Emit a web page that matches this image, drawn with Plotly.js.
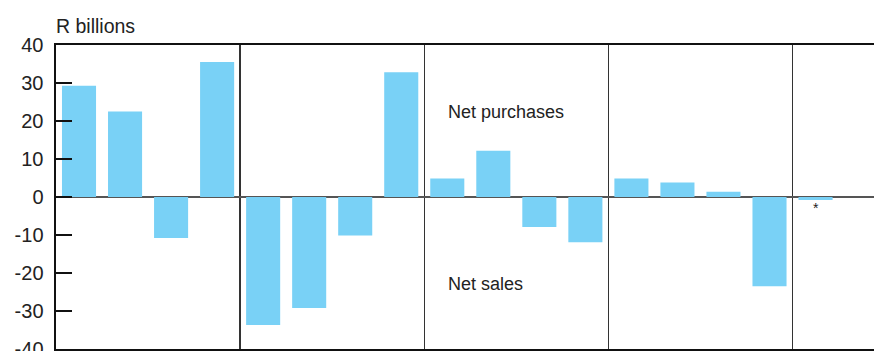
<!DOCTYPE html>
<html>
<head>
<meta charset="utf-8">
<script src="https://cdn.plot.ly/plotly-3.0.1.min.js"></script>
<style>html,body{margin:0;padding:0;background:#fff;}#chart{width:874px;height:351px;}</style>
</head>
<body>
<div id="chart"></div>
<script>
// Net purchases (+) / net sales (-), R billions, quarterly bars in groups of four
var values = [29.3, 22.5, -10.8, 35.5,
              -33.7, -29.2, -10.1, 32.8,
              4.9, 12.2, -7.9, -11.9,
              4.9, 3.8, 1.4, -23.5,
              -0.8];
var groupDividers = [3.5, 7.5, 11.5, 15.5];
var yTicks = [-40, -30, -20, -10, 0, 10, 20, 30, 40];
var unitLabel = 'R billions';
var upLabel = 'Net purchases';
var downLabel = 'Net sales';
var noteMark = '*';

var xs = values.map(function (_, i) { return i; });
var font = {family: 'Liberation Sans, Arial, sans-serif', color: '#222'};

var trace = {
  type: 'bar',
  x: xs,
  y: values,
  marker: {color: '#79d1f6', line: {width: 0}},
  hoverinfo: 'skip'
};

var layout = {
  width: 874, height: 351,
  margin: {l: 56, r: 0, t: 45, b: 2, pad: 0},
  paper_bgcolor: '#fff', plot_bgcolor: '#fff',
  showlegend: false,
  bargap: 0.26,
  font: font,
  xaxis: {
    range: [-0.5, 17.27],
    tickvals: groupDividers,
    showticklabels: false,
    ticks: '',
    showgrid: true, gridcolor: '#333', gridwidth: 1.3,
    showline: true, linecolor: '#111', linewidth: 2.5, mirror: true,
    zeroline: false, fixedrange: true
  },
  yaxis: {
    range: [-40, 40],
    tickvals: yTicks,
    ticktext: yTicks.map(String),
    ticks: 'inside', ticklen: 16, tickwidth: 2.5, tickcolor: '#111',
    tickfont: {family: font.family, size: 20, color: '#222'},
    ticklabelstandoff: 6,
    ticklabeloverflow: 'allow',
    showgrid: false,
    showline: true, linecolor: '#111', linewidth: 2.5, mirror: false,
    zeroline: true, zerolinecolor: '#555', zerolinewidth: 1.5,
    fixedrange: true
  },
  annotations: [
    {xref: 'paper', yref: 'paper', x: -0.003, y: 1.063, xanchor: 'left', yanchor: 'middle',
     text: unitLabel, showarrow: false, font: {family: font.family, size: 19.5, color: '#222'}},
    {xref: 'x', yref: 'y', x: 7.98, y: 22.5, xanchor: 'left', yanchor: 'middle',
     text: upLabel, showarrow: false, font: {family: font.family, size: 18, color: '#222'}},
    {xref: 'x', yref: 'y', x: 7.98, y: -22.8, xanchor: 'left', yanchor: 'middle',
     text: downLabel, showarrow: false, font: {family: font.family, size: 18, color: '#222'}},
    {xref: 'x', yref: 'y', x: 16, y: -3, xanchor: 'center', yanchor: 'middle',
     text: noteMark, showarrow: false, font: {family: font.family, size: 14, color: '#222'}}
  ]
};

Plotly.newPlot('chart', [trace], layout, {displayModeBar: false, staticPlot: true});
</script>
</body>
</html>
